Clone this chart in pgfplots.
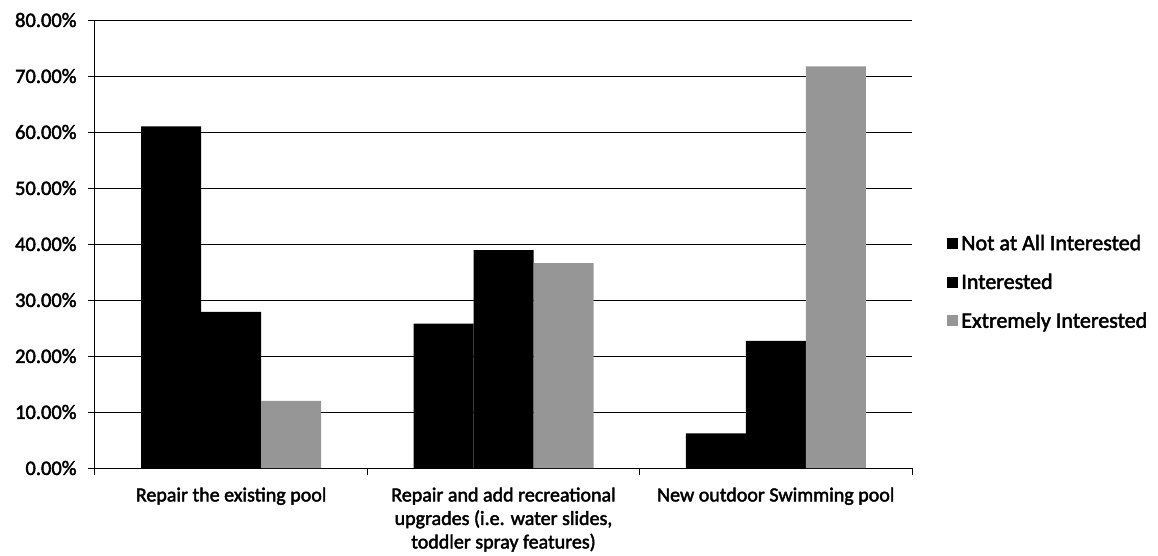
\documentclass[border=0pt]{standalone}
\usepackage{fontspec}
\setmainfont{Carlito}[FakeBold=2.2]
\usepackage{pgfplots}
\pgfplotsset{compat=1.18}
\definecolor{speck}{RGB}{150,150,150}
\begin{document}
\begin{tikzpicture}
\begin{axis}[name=ax, scale only axis, width=817pt, height=448pt,
  ybar=0pt, bar width=60pt,
  xmin=-0.5, xmax=2.5, ymin=0, ymax=80,
  axis x line*=bottom, axis y line*=left,
  axis line style={black, line width=1pt},
  ytick={0,10,...,80},
  yticklabel={\pgfmathprintnumber[fixed,fixed zerofill,precision=2]{\tick}\%},
  /pgf/number format/assume math mode=true,
  y tick label style={font=\fontsize{20.5}{24}\selectfont, xshift=-8pt},
  ymajorgrids, grid style={black, line width=1pt},
  xtick={0,1,2},
  xticklabels={{Repair the existing pool}, {Repair and add recreational\\upgrades (i.e. water slides,\\toddler spray features)}, {New outdoor Swimming pool}},
  x tick label style={align=center, font=\fontsize{20}{23.5}\selectfont, yshift=-9pt},
  major x tick style={draw=none},
  minor xtick={-0.5,0.5,1.5,2.5},
  tick align=outside, xtick pos=bottom, ytick pos=left,
  major tick length=7pt, minor tick length=7pt,
  tick style={black, line width=1pt},
  legend style={at={(1.043,0.415)}, anchor=west, draw=none, fill=none,
    font=\fontsize{22}{25}\selectfont, row sep=18pt, inner sep=0pt,
    nodes={inner xsep=3pt}},
  legend cell align=left,
  legend image code/.code={\fill[#1] (0pt,-5.5pt) rectangle (11pt,5.5pt);},
]
\addplot[fill=black, draw=none] coordinates {(0,61.0) (1,25.8) (2,6.2)};
\addplot[fill=black, draw=none] coordinates {(0,27.9) (1,38.9) (2,22.7)};
\addplot[fill=speck, draw=none] coordinates {(0,12.0) (1,36.6) (2,71.7)};
\legend{Not at All Interested, Interested, Extremely Interested}
\end{axis}
\pgfresetboundingbox
\path ([shift={(-95pt,-87pt)}]ax.south west) rectangle ++(1158pt,555pt);
\end{tikzpicture}
\end{document}
